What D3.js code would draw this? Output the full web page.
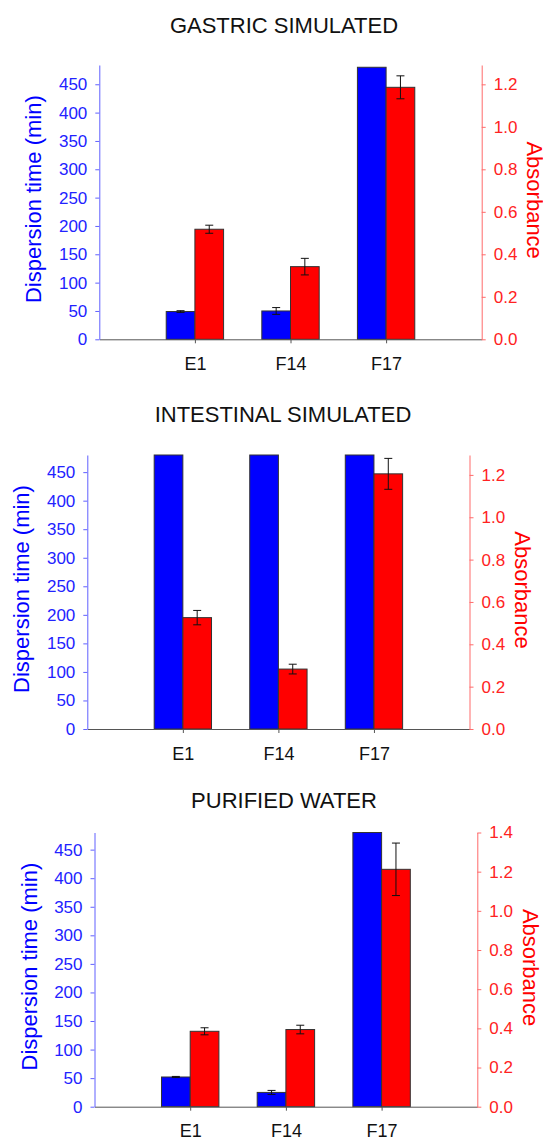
<!DOCTYPE html>
<html>
<head>
<meta charset="utf-8">
<script src="https://cdn.jsdelivr.net/npm/d3@7"></script>
<style>
  body { margin: 0; background: #fff; }
  svg { display: block; font-family: "Liberation Sans", Arial, sans-serif; }
</style>
</head>
<body>
<div id="corpo"></div>
<script>
// categories and values
var categories = ["E1", "F14", "F17"];
var titles = ["GASTRIC SIMULATED", "INTESTINAL SIMULATED", "PURIFIED WATER"];

var timeGastric = [49, 50, 480];
var timeGastricErr = [1.5, 6, 0];
var absGastric = [0.518, 0.342, 1.186];
var absGastricErr = [0.019, 0.039, 0.054];

var timeIntestinal = [480, 480, 480];
var timeIntestinalErr = [0, 0, 0];
var absIntestinal = [0.526, 0.283, 1.205];
var absIntestinalErr = [0.034, 0.023, 0.073];

var timeWater = [52, 25, 480];
var timeWaterErr = [1, 3.5, 0];
var absWater = [0.385, 0.394, 1.212];
var absWaterErr = [0.018, 0.022, 0.134];

var timeTicks = [0, 50, 100, 150, 200, 250, 300, 350, 400, 450];
var absTicks = [[0, 0.2, 0.4, 0.6, 0.8, 1.0, 1.2], [0, 0.2, 0.4, 0.6, 0.8, 1.0, 1.2], [0, 0.2, 0.4, 0.6, 0.8, 1.0, 1.2, 1.4]];

var panels = [
    {time: timeGastric, timeErr: timeGastricErr, abs: absGastric, absErr: absGastricErr},
    {time: timeIntestinal, timeErr: timeIntestinalErr, abs: absIntestinal, absErr: absIntestinalErr},
    {time: timeWater, timeErr: timeWaterErr, abs: absWater, absErr: absWaterErr}
];

// layout of each panel on the page
var layout = [
    {left: 99.3, top: 65, width: 382.4, height: 274.3, timeMax: 484, absMax: 1.291, titleX: 284, titleY: 33.3},
    {left: 87.3, top: 455, width: 382.2, height: 274, timeMax: 480, absMax: 1.294, titleX: 283, titleY: 422.3},
    {left: 94.5, top: 832.5, width: 382.8, height: 274.2, timeMax: 480, absMax: 1.4, titleX: 284, titleY: 808.3}
];

var width = 543, height = 1137;

var svg = d3.select("#corpo").append("svg")
    .attr("width", width)
    .attr("height", height);

panels.forEach(function(p, i) {
    var lay = layout[i];
    var w = lay.width, h = lay.height;

    svg.append("text")
        .attr("x", lay.titleX)
        .attr("y", lay.titleY)
        .attr("text-anchor", "middle")
        .style("font-size", "22px")
        .style("fill", "#111")
        .text(titles[i]);

    var g = svg.append("g")
        .attr("transform", "translate(" + lay.left + "," + lay.top + ")");

    var x = d3.scalePoint().domain(categories).range([0, w]).padding(1);
    var bw = x.step() * 0.3;
    var yL = d3.scaleLinear().domain([0, lay.timeMax]).range([h, 0]);
    var yR = d3.scaleLinear().domain([0, lay.absMax]).range([h, 0]);

    // bars
    g.selectAll(".tbar").data(p.time).enter().append("rect")
        .attr("x", function(d, k) { return x(categories[k]) - bw; })
        .attr("y", function(d) { return yL(d); })
        .attr("width", bw)
        .attr("height", function(d) { return h - yL(d); })
        .style("fill", "#0000ff")
        .style("stroke", "#333")
        .style("stroke-width", 1);

    g.selectAll(".abar").data(p.abs).enter().append("rect")
        .attr("x", function(d, k) { return x(categories[k]); })
        .attr("y", function(d) { return yR(d); })
        .attr("width", bw)
        .attr("height", function(d) { return h - yR(d); })
        .style("fill", "#ff0000")
        .style("stroke", "#333")
        .style("stroke-width", 1);

    // error bars
    function errBars(vals, errs, scale, cx) {
        vals.forEach(function(v, k) {
            if (!errs[k]) return;
            var c = cx(k), y1 = scale(v - errs[k]), y2 = scale(v + errs[k]);
            var e = g.append("g").style("stroke", "#111").style("stroke-width", 1);
            e.append("line").attr("x1", c).attr("x2", c).attr("y1", y1).attr("y2", y2);
            e.append("line").attr("x1", c - 4).attr("x2", c + 4).attr("y1", y1).attr("y2", y1);
            e.append("line").attr("x1", c - 4).attr("x2", c + 4).attr("y1", y2).attr("y2", y2);
        });
    }
    errBars(p.time, p.timeErr, yL, function(k) { return x(categories[k]) - bw / 2; });
    errBars(p.abs, p.absErr, yR, function(k) { return x(categories[k]) + bw / 2; });

    // axes
    var ax = g.append("g")
        .attr("transform", "translate(0," + h + ")")
        .call(d3.axisBottom(x).tickSizeInner(4).tickSizeOuter(0).tickPadding(14));
    ax.select(".domain").style("stroke", "#555");
    ax.selectAll(".tick line").style("stroke", "#555");
    ax.selectAll("text").style("font-size", "18px").style("fill", "#111")
        .style("font-family", "'Liberation Sans', Arial, sans-serif");

    var al = g.append("g")
        .call(d3.axisLeft(yL).tickValues(timeTicks).tickSizeInner(4).tickSizeOuter(0).tickPadding(8));
    al.select(".domain").style("stroke", "#6060ff");
    al.selectAll(".tick line").style("stroke", "#6060ff");
    al.selectAll("text").style("font-size", "17px").style("fill", "#2222ff")
        .style("font-family", "'Liberation Sans', Arial, sans-serif");

    var ar = g.append("g")
        .attr("transform", "translate(" + w + ",0)")
        .call(d3.axisRight(yR).tickValues(absTicks[i]).tickFormat(d3.format(".1f"))
            .tickSizeInner(4).tickSizeOuter(0).tickPadding(8));
    ar.select(".domain").style("stroke", "#ff6a6a");
    ar.selectAll(".tick line").style("stroke", "#ff6a6a");
    ar.selectAll("text").style("font-size", "17px").style("fill", "#ff2222")
        .style("font-family", "'Liberation Sans', Arial, sans-serif");

    // axis titles
    g.append("text")
        .attr("transform", "translate(-58," + (h / 2 - 3) + ") rotate(-90)")
        .attr("text-anchor", "middle")
        .style("font-size", "22px")
        .style("fill", "#0000ff")
        .text("Dispersion time (min)");

    g.append("text")
        .attr("transform", "translate(" + (w + 45.5) + "," + (h / 2 - 2) + ") rotate(90)")
        .attr("text-anchor", "middle")
        .style("font-size", "22px")
        .style("fill", "#ff0000")
        .text("Absorbance");
});
</script>
</body>
</html>
